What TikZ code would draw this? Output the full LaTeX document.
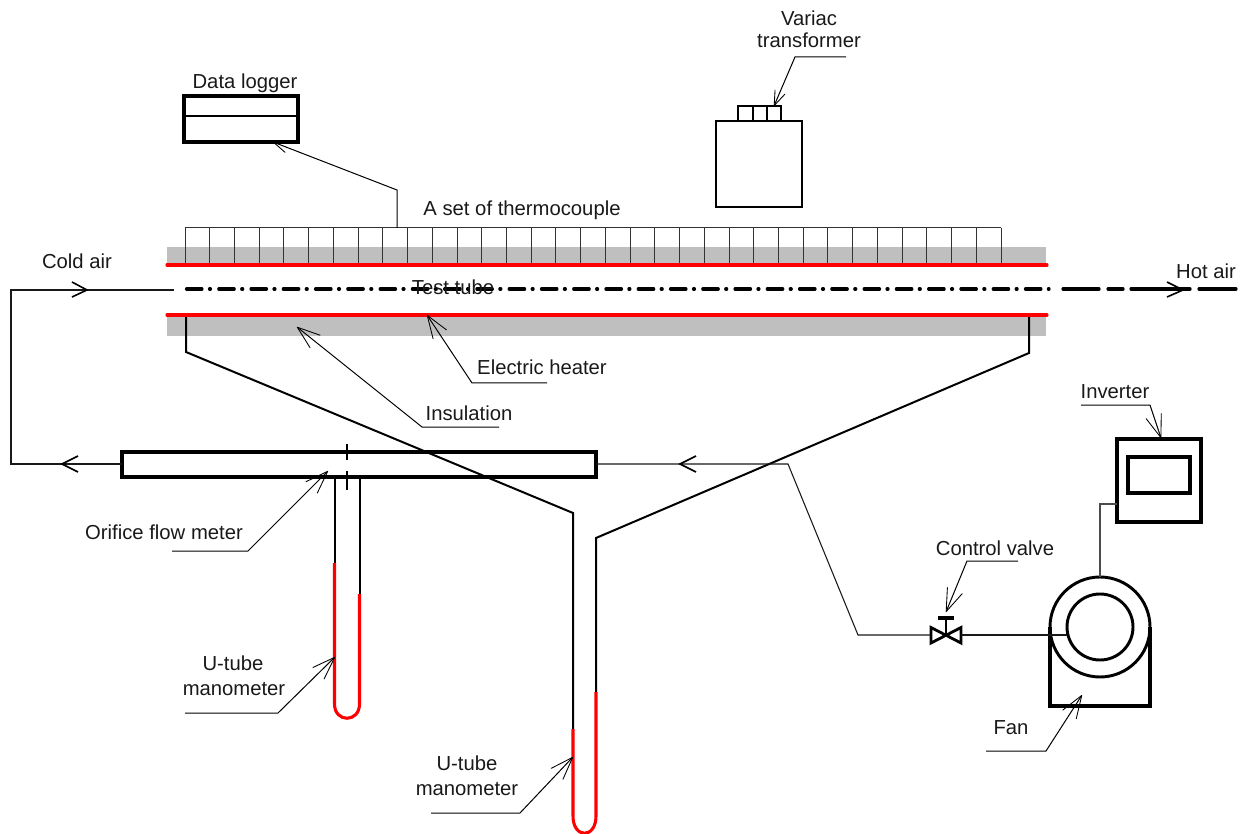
\documentclass[tikz,border=0pt]{standalone}
\usepackage{fontspec}
\setmainfont{Liberation Sans}
\usetikzlibrary{arrows.meta}
\tikzset{
  x=0.75pt,y=-0.75pt,
  lab/.style={anchor=base,inner sep=0pt,outer sep=0pt,font=\fontsize{15.2pt}{18pt}\selectfont,text=black!90},
  thinl/.style={line width=0.75pt,draw=black!80},
  wire/.style={line width=0.8pt,draw=black!90,line join=miter},
  heavy/.style={line width=2.4pt,draw=black,line join=miter},
  fanl/.style={line width=2.2pt,draw=black,line join=miter},
  manol/.style={line width=1.5pt,draw=black},
  redl/.style={line width=2.3pt,draw=red,line cap=round},
  redm/.style={line width=2.3pt,draw=red},
  chev/.style={line width=1.2pt,draw=black,line join=miter},
  leader/.style={line width=0.75pt,draw=black,line join=miter,-{Straight Barb[length=17pt,width=12pt,line width=0.65pt,round]}},
  shortleader/.style={line width=0.75pt,draw=black,line join=miter,-{Straight Barb[length=11pt,width=8pt,line width=0.65pt,round]}},
  bx/.style={draw=black,minimum width=#1,inner sep=0pt,outer sep=0pt},
  axisl/.style={line width=2.4pt,draw=black,line cap=round}
}
\begin{document}
\begin{tikzpicture}
\useasboundingbox (0,0) rectangle (1250,834);
% insulation
\fill[black!25] (167,247) rectangle (1046,265);
\fill[black!25] (167,315) rectangle (1046,336);
% thermocouples
\coordinate (tctap) at (397,228);
\coordinate (tcleft) at (185,228);
\coordinate (tcright) at (1001,228);
\draw[thinl] (tcleft) -- (tcright);
\foreach \i in {0,...,33}{
  \draw[thinl] ({185+\i*24.727},228) -- ({185+\i*24.727},265);
}
% big manometer lines
\coordinate (bl0) at (186,315);
\coordinate (bl1) at (186,352);
\coordinate (bl2) at (573,513);
\coordinate (bl3) at (573,729);
\coordinate (br0) at (1029,315);
\coordinate (br1) at (1029,353);
\coordinate (br2) at (596,538);
\coordinate (br3) at (596,692);
\draw[manol,line join=miter] (bl0) -- (bl1) -- (bl2) -- (bl3);
\draw[manol,line join=miter] (br0) -- (br1) -- (br2) -- (br3);
\draw[redm] (bl3) -- (573,816) .. controls (573,839) and (596,839) .. (596,816) -- (br3);
% heater
\draw[redl] (167,265) -- (1047,265);
\draw[redl] (167,315) -- (1047,315);
% axis
\draw[axisl,dash pattern=on 11.6pt off 5.6pt on 0.75pt off 6.25pt] (186.5,289) -- (1049,289);
\foreach \a/\b in {1063/1099,1108/1123,1131/1190,1199/1236}{
  \draw[axisl] (\a,289) -- (\b,289);
}
\draw[chev] (1167,282) -- (1183,290) -- (1167,297);
% orifice
\node[bx=355.5pt,heavy,minimum height=18.75pt] (orifice) at (359,464.5) {};
\draw[manol] (347,444) -- (347,460);
\draw[manol] (347,471) -- (347,490);
% small manometer
\coordinate (ml0) at (334.5,477);
\coordinate (ml1) at (334.5,563);
\coordinate (mr0) at (359.5,477);
\coordinate (mr1) at (359.5,594);
\draw[manol] (ml0) -- (ml1);
\draw[manol] (mr0) -- (mr1);
\draw[redm] (ml1) -- (334.5,704) .. controls (334.5,723) and (359.5,723) .. (359.5,704) -- (mr1);
% air pipes
\coordinate (coldend) at (174,290);
\coordinate (cold1) at (11,290);
\coordinate (cold2) at (11,464);
\coordinate (p1) at (788,464);
\coordinate (p2) at (858,635);
\coordinate (vl) at (931,635);
\coordinate (vr) at (961,635);
\coordinate (vc) at (946,635);
\draw[wire] (coldend) -- (cold1) -- (cold2) -- (orifice.west |- cold2);
\draw[wire] (orifice.east |- p1) -- (p1) -- (p2) -- (vl);
\draw[chev] (72,282) -- (87,290) -- (72,297);
\draw[chev] (78,456) -- (62,464) -- (78,472);
\draw[chev] (696,456) -- (680,464) -- (696,472);
% valve
\draw[line width=2.1pt,line join=miter] (931,627.5) -- (961,643) -- (961,627.5) -- (931,643) -- cycle;
\draw[line width=2pt] (vc) -- (946,618);
\draw[line width=2.4pt] (938,618) -- (954,618);
% fan
\node[circle,fanl,minimum size=75pt,inner sep=0pt,outer sep=0pt] (fan) at (1100,627) {};
\node[circle,fanl,minimum size=49.5pt,inner sep=0pt,outer sep=0pt] (fanin) at (1100,627) {};
\draw[heavy] (fan.west) -- (1050,706) -- (1150,706) -- (fan.east);
\draw[wire] (vr) -- (vr -| fanin.west);
% inverter
\node[bx=63pt,heavy,minimum height=62.25pt] (inv) at (1159,480.5) {};
\node[bx=46.5pt,heavy,minimum height=27pt] (invs) at (1159,475) {};
\coordinate (invc) at (1100,504);
\draw[line width=0.85pt,draw=black!70] (inv.west |- invc) -- (invc) -- (fan.north);
% data logger
\node[bx=85.5pt,heavy,minimum height=34.5pt] (logger) at (241,119) {};
\draw[line width=1.3pt] (logger.west |- 0,116) -- (logger.east |- 0,116);
\coordinate (lg1) at (397,190);
\coordinate (lgtip) at (273,142);
\draw[shortleader] (tctap) -- (lg1) -- (lgtip);
% variac
\node[bx=64.5pt,line width=2pt,minimum height=64.5pt] (variac) at (759,164) {};
\node[bx=32.25pt,line width=2pt,minimum height=11.25pt] (vtop) at (759.5,113.5) {};
\draw[line width=1.5pt] (753,106) -- (753,121);
\draw[line width=1.5pt] (767,106) -- (767,121);
% leaders
\coordinate (l1a) at (846,57); \coordinate (l1b) at (795,57); \coordinate (l1c) at (774,106);
\draw[shortleader] (l1a) -- (l1b) -- (l1c);
\coordinate (l2a) at (547,383); \coordinate (l2b) at (472,383); \coordinate (l2c) at (427,315);
\draw[leader] (l2a) -- (l2b) -- (l2c);
\coordinate (l3a) at (499,427); \coordinate (l3b) at (422,427); \coordinate (l3c) at (297,327);
\draw[leader] (l3a) -- (l3b) -- (l3c);
\coordinate (l4a) at (172,551); \coordinate (l4b) at (248,551); \coordinate (l4c) at (328,471);
\draw[leader] (l4a) -- (l4b) -- (l4c);
\coordinate (l5a) at (185,713); \coordinate (l5b) at (278,713); \coordinate (l5c) at (335,657);
\draw[leader] (l5a) -- (l5b) -- (l5c);
\coordinate (l6a) at (431,813); \coordinate (l6b) at (520,813); \coordinate (l6c) at (573,757);
\draw[leader] (l6a) -- (l6b) -- (l6c);
\coordinate (l7a) at (1018,561); \coordinate (l7b) at (967,561); \coordinate (l7c) at (946,612);
\draw[leader] (l7a) -- (l7b) -- (l7c);
\coordinate (l8a) at (1081,405); \coordinate (l8b) at (1150,405); \coordinate (l8c) at (1161,438);
\draw[leader] (l8a) -- (l8b) -- (l8c);
\coordinate (l9a) at (986,751); \coordinate (l9b) at (1046,751); \coordinate (l9c) at (1082,695);
\draw[leader] (l9a) -- (l9b) -- (l9c);
% labels
\node[lab] (t1) at (809,26) {Variac};
\node[lab] (t2) at (809,48) {transformer};
\node[lab] (t3) at (245,89) {Data logger};
\node[lab] (t4) at (522,216) {A set of thermocouple};
\node[lab] (t5) at (77,269) {Cold air};
\node[lab] (t6) at (1206,279) {Hot air};
\node[lab] (t7) at (453,295) {Test tube};
\node[lab] (t8) at (542,375) {Electric heater};
\node[lab] (t9) at (469,420) {Insulation};
\node[lab] (t10) at (1115,398) {Inverter};
\node[lab] (t11) at (164,539) {Orifice flow meter};
\node[lab] (t12) at (995,555) {Control valve};
\node[lab] (t13) at (233,670) {U-tube};
\node[lab] (t14) at (234,695) {manometer};
\node[lab] (t15) at (467,770) {U-tube};
\node[lab] (t16) at (467,795) {manometer};
\node[lab] (t17) at (1011,734) {Fan};
\end{tikzpicture}
\end{document}
